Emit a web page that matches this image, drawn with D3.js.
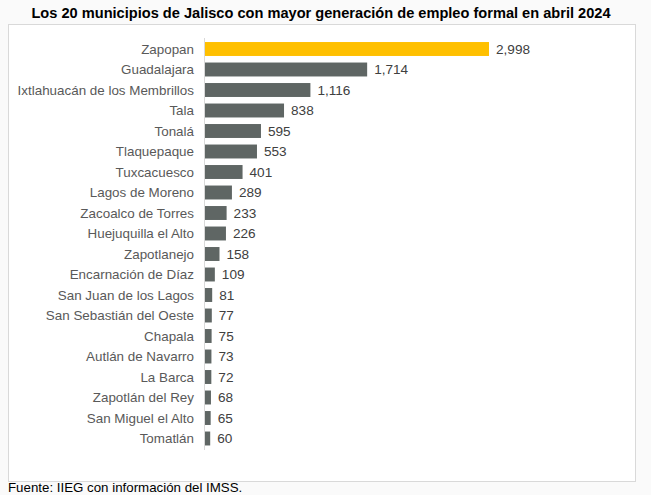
<!DOCTYPE html>
<meta charset="utf-8">
<title>Empleo formal Jalisco abril 2024</title>
<script src="https://d3js.org/d3.v7.min.js"></script>
<style>
body { margin: 0; background: #fafafa; }
svg { display: block; font-family: "Liberation Sans", Arial, sans-serif; }
</style>
<div id="chart"></div>
<script>
// datos
const municipios = ["Zapopan", "Guadalajara", "Ixtlahuacán de los Membrillos", "Tala", "Tonalá",
  "Tlaquepaque", "Tuxcacuesco", "Lagos de Moreno", "Zacoalco de Torres", "Huejuquilla el Alto",
  "Zapotlanejo", "Encarnación de Díaz", "San Juan de los Lagos", "San Sebastián del Oeste",
  "Chapala", "Autlán de Navarro", "La Barca", "Zapotlán del Rey", "San Miguel el Alto", "Tomatlán"];
const empleos = [2998, 1714, 1116, 838, 595, 553, 401, 289, 233, 226, 158, 109, 81, 77, 75, 73, 72, 68, 65, 60];
const destacado = "Zapopan";

const W = 651, H = 495;
const x0 = 204.5;

const svg = d3.select("#chart").append("svg")
  .attr("width", W)
  .attr("height", H);

// marco blanco
svg.append("rect")
  .attr("x", 8.5).attr("y", 24.5)
  .attr("width", 627).attr("height", 457)
  .attr("fill", "#fff")
  .attr("stroke", "#d9d9d9");

svg.append("text")
  .attr("x", 321)
  .attr("y", 18)
  .attr("text-anchor", "middle")
  .style("font-size", "14.6px")
  .style("font-weight", "bold")
  .attr("fill", "#000")
  .text("Los 20 municipios de Jalisco con mayor generación de empleo formal en abril 2024");

const x = d3.scaleLinear()
  .domain([0, 2998])
  .range([x0, 489]);

const y = d3.scaleBand()
  .domain(municipios)
  .range([38.75, 38.75 + municipios.length * 20.5])
  .paddingInner(0.32)
  .paddingOuter(0.16);

svg.append("g")
  .selectAll("rect")
  .data(municipios)
  .join("rect")
  .attr("x", x(0))
  .attr("y", d => y(d))
  .attr("width", (d, i) => x(empleos[i]) - x(0))
  .attr("height", y.bandwidth())
  .attr("fill", d => d == destacado ? "#ffc000" : "#5f6664");

// eje vertical
svg.append("line")
  .attr("x1", x0).attr("x2", x0)
  .attr("y1", 38).attr("y2", 450)
  .attr("stroke", "#d9d9d9");

svg.append("g")
  .selectAll("text")
  .data(municipios)
  .join("text")
  .attr("x", 194)
  .attr("y", d => y(d) + y.bandwidth() / 2)
  .attr("dy", "0.35em")
  .attr("text-anchor", "end")
  .attr("fill", "#595959")
  .style("font-size", "13.4px")
  .text(d => d);

const fmt = d3.format(",");
svg.append("g")
  .selectAll("text")
  .data(municipios)
  .join("text")
  .attr("x", (d, i) => x(empleos[i]) + 7)
  .attr("y", d => y(d) + y.bandwidth() / 2)
  .attr("dy", "0.35em")
  .attr("fill", "#404040")
  .style("font-size", "13.6px")
  .text((d, i) => fmt(empleos[i]));

svg.append("text")
  .attr("x", 8)
  .attr("y", 492)
  .attr("fill", "#000")
  .style("font-size", "13.3px")
  .text("Fuente: IIEG con información del IMSS.");
</script>
